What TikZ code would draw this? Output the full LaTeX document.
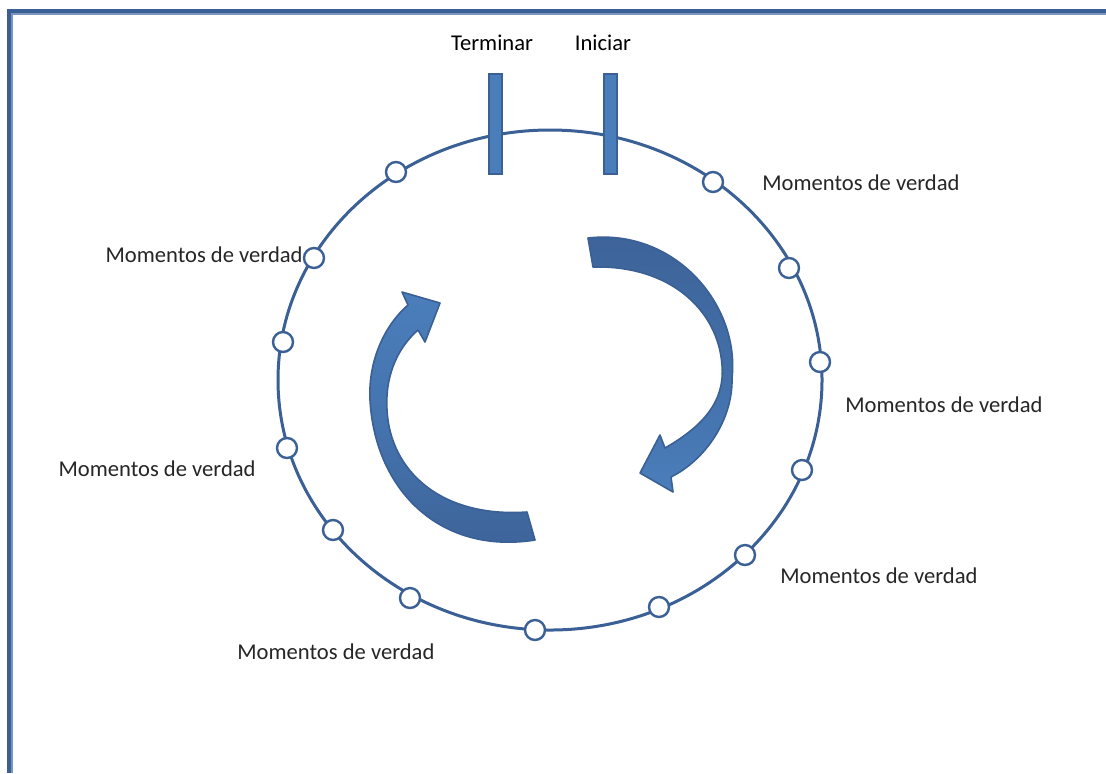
\documentclass[tikz,border=0pt]{standalone}
\usepackage{fontspec}
\setmainfont{Carlito}
\definecolor{ringblue}{HTML}{3A6095}
\definecolor{fillblue}{HTML}{4A7EBB}
\definecolor{darkfill}{HTML}{3D6399}
\definecolor{paleblue}{HTML}{7A96BC}
\tikzset{
	ring/.style={line width=1.5pt, draw=ringblue},
	mdot/.style={circle, draw=ringblue, line width=1.2pt, fill=white, minimum size=10pt, inner sep=0pt},
	bar/.style={rectangle, draw=ringblue, line width=1pt, fill=fillblue, minimum width=6.5pt, minimum height=50pt, inner sep=0pt},
	lbl/.style={font=\fontsize{11.3}{13}\selectfont, text=black!85, inner sep=0pt},
	tag/.style={font=\fontsize{11.3}{13}\selectfont, text=black, inner sep=0pt},
	turn/.style={draw=ringblue, line width=0.8pt, line join=round}
}

\begin{document}
\begin{tikzpicture}[x=0.5pt, y=-0.5pt]
			%%%%% FRAME %%%%%
			\useasboundingbox (0,0) rectangle (1106,773);
			\fill[white] (0,0) rectangle (1106,773);
			\draw[line width=2pt, color=ringblue] (8.5,773) -- (8.5,11) -- (1106,11);
			\draw[line width=1pt, color=paleblue] (11.5,773) -- (11.5,14) -- (1106,14);
			
			%%%%% RING %%%%%
			\draw[ring] (550,380) ellipse [x radius=272, y radius=250];
			
			%%%%% START / END BARS %%%%%
			\node[bar] (fin) at (495.5,123.5) {};
			\node[bar] (ini) at (610.5,123.5) {};
			\node[tag] (tfin) at (492,43) {Terminar};
			\node[tag] (tini) at (603,43) {Iniciar};
			
			%%%%% MOMENTS %%%%%
			\node[mdot] (m1) at (396,172) {};
			\node[mdot] (m2) at (314,258) {};
			\node[mdot] (m3) at (283,342) {};
			\node[mdot] (m4) at (287,448) {};
			\node[mdot] (m5) at (333,530) {};
			\node[mdot] (m6) at (410,598) {};
			\node[mdot] (m7) at (535,630) {};
			\node[mdot] (m8) at (659,607) {};
			\node[mdot] (m9) at (745,555) {};
			\node[mdot] (m10) at (802,470) {};
			\node[mdot] (m11) at (820,362) {};
			\node[mdot] (m12) at (789,268) {};
			\node[mdot] (m13) at (713,182) {};
			
			\node[lbl, anchor=west] (v1) at (762,183) {Momentos de verdad};
			\node[lbl, anchor=east] (v2) at (303,255) {Momentos de verdad};
			\node[lbl, anchor=west] (v3) at (845,405) {Momentos de verdad};
			\node[lbl, anchor=east] (v4) at (256,469) {Momentos de verdad};
			\node[lbl, anchor=west] (v5) at (780,576) {Momentos de verdad};
			\node[lbl, anchor=west] (v6) at (237,652) {Momentos de verdad};
			
			%%%%% TURNING ARROWS %%%%%
			\shade[top color=darkfill, bottom color=fillblue, middle color=darkfill!60!fillblue]
				(588,238) .. controls (675,228) and (740,305) .. (732,378)
				.. controls (733,420) and (705,460) .. (671,477) -- (673,492) -- (640,473) -- (660,435) -- (665,448)
				.. controls (705,425) and (725,400) .. (722,365)
				.. controls (718,310) and (670,265) .. (593,267) -- cycle;
			\draw[turn]
				(588,238) .. controls (675,228) and (740,305) .. (732,378)
				.. controls (733,420) and (705,460) .. (671,477) -- (673,492) -- (640,473) -- (660,435) -- (665,448)
				.. controls (705,425) and (725,400) .. (722,365)
				.. controls (718,310) and (670,265) .. (593,267) -- cycle;
			
			\shade[top color=fillblue, bottom color=darkfill, middle color=fillblue!60!darkfill]
				(440,303) -- (425,342) -- (418,330) .. controls (395,350) and (385,380) .. (387,410)
				.. controls (390,470) and (440,518) .. (527,512) -- (535,540)
				.. controls (440,555) and (375,490) .. (370,400)
				.. controls (368,360) and (385,325) .. (408,305) -- (402,292) -- cycle;
			\draw[turn]
				(440,303) -- (425,342) -- (418,330) .. controls (395,350) and (385,380) .. (387,410)
				.. controls (390,470) and (440,518) .. (527,512) -- (535,540)
				.. controls (440,555) and (375,490) .. (370,400)
				.. controls (368,360) and (385,325) .. (408,305) -- (402,292) -- cycle;
			
			%%%%% END %%%%%
\end{tikzpicture}
\end{document}
